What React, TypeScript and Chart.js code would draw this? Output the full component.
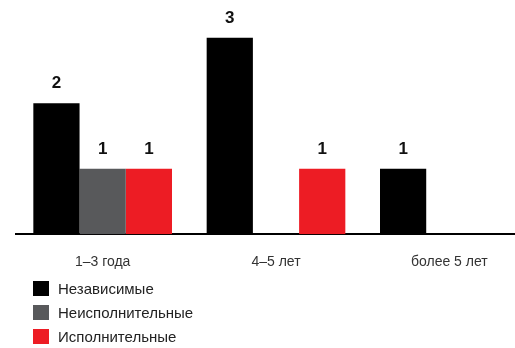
import React, { useEffect, useRef } from "react";
import { Chart, registerables } from "chart.js";

Chart.register(...registerables);

const categories = ["1–3 года", "4–5 лет", "более 5 лет"];
const seriesNames = ["Независимые", "Неисполнительные", "Исполнительные"];
const independent = [2, 3, 1];
const nonExecutive = [1, 0, 0];
const executive = [1, 1, 0];
const seriesColors = ["#000000", "#58595b", "#ed1c24"];

const FONT = "'Liberation Sans', Arial, sans-serif";

const valueLabels = {
  id: "valueLabels",
  afterDatasetsDraw(chart: any) {
    const ctx = chart.ctx;
    ctx.save();
    ctx.font = `bold 17px ${FONT}`;
    ctx.fillStyle = "#111111";
    ctx.textAlign = "center";
    ctx.textBaseline = "bottom";
    chart.data.datasets.forEach((ds: any, i: number) => {
      const meta = chart.getDatasetMeta(i);
      meta.data.forEach((bar: any, j: number) => {
        const v = ds.data[j];
        if (!v) return;
        ctx.fillText(String(v), bar.x, bar.y - 11);
      });
    });
    ctx.restore();
  },
};

export default function App() {
  const ref = useRef<HTMLCanvasElement>(null);
  useEffect(() => {
    if (!ref.current) return;
    const values = [independent, nonExecutive, executive];
    const chart = new Chart(ref.current, {
      type: "bar",
      data: {
        labels: categories,
        datasets: seriesNames.map((name, i) => ({
          label: name,
          data: values[i],
          backgroundColor: seriesColors[i],
          borderWidth: 0,
          categoryPercentage: 0.8,
          barPercentage: 1.0,
        })),
      },
      options: {
        responsive: false,
        animation: false,
        layout: { padding: { left: 16, right: 0, top: 5, bottom: 5 } },
        plugins: {
          legend: { display: false },
          tooltip: { enabled: false },
        },
        scales: {
          x: {
            grid: { display: false, drawTicks: false },
            border: { display: true, color: "#000000", width: 2 },
            ticks: {
              color: "#333333",
              font: { family: FONT, size: 14 },
              padding: 20,
            },
          },
          y: {
            display: false,
            min: 0,
            max: 3.5,
          },
        },
      },
      plugins: [valueLabels],
    });
    return () => chart.destroy();
  }, []);

  return (
    <div
      style={{
        position: "fixed",
        left: 0,
        top: 0,
        width: 515,
        height: 348,
        overflow: "hidden",
        background: "#ffffff",
      }}
    >
      <canvas
        ref={ref}
        width={536}
        height={296}
        style={{ position: "absolute", left: 0, top: 0, width: 536, height: 296 }}
      />
      <div style={{ position: "absolute", left: 33, top: 276 }}>
        {seriesNames.map((name, i) => (
          <div
            key={name}
            style={{ display: "flex", alignItems: "center", height: 24 }}
          >
            <span
              style={{
                display: "inline-block",
                width: 16,
                height: 15,
                background: seriesColors[i],
                marginRight: 9,
              }}
            />
            <span
              style={{
                fontFamily: FONT,
                fontSize: 15,
                color: "#222222",
                lineHeight: "15px",
              }}
            >
              {name}
            </span>
          </div>
        ))}
      </div>
    </div>
  );
}
